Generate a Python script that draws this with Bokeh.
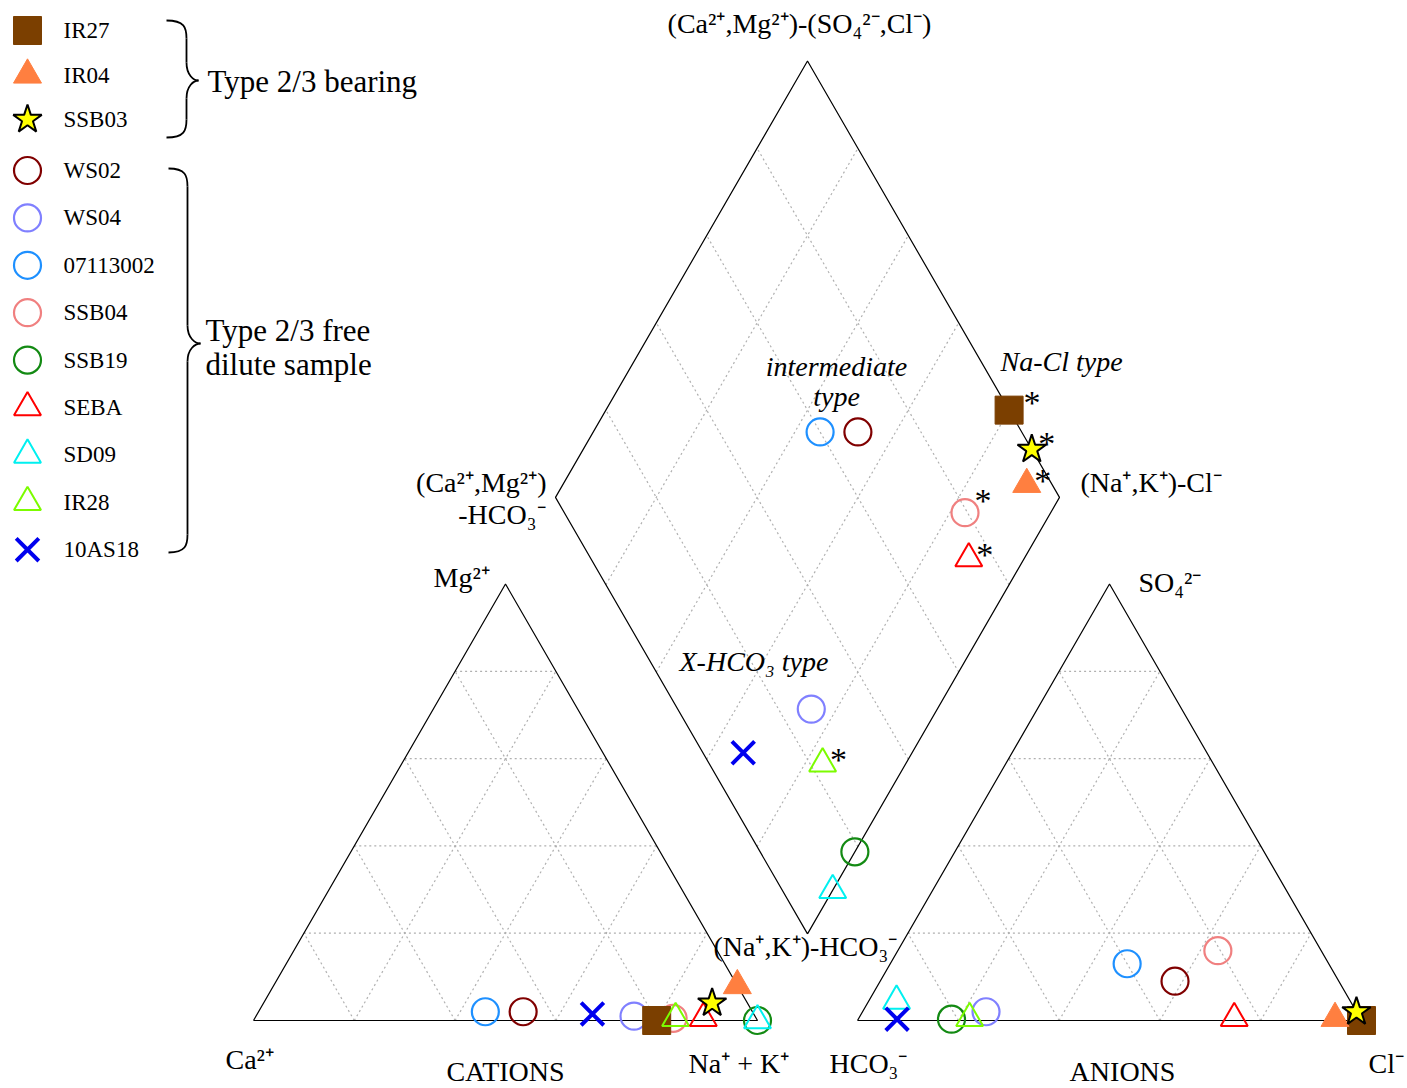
import numpy as np
from bokeh.plotting import figure
from bokeh.models import Range1d, Label
from bokeh.core.properties import value
from bokeh.embed import file_html
from bokeh.resources import INLINE

# ---------------- data (meq %) ----------------
samples = ["IR27", "IR04", "SSB03", "WS02", "WS04", "07113002", "SSB04",
           "SSB19", "SEBA", "SD09", "IR28", "10AS18"]
ca   = [20.0, 0.0, 7.0, 45.5, 24.0, 53.0, 16.5, 0.0, 10.5, 0.0, 16.0, 32.0]
mg   = [0.0, 8.0, 4.0, 2.0, 1.0, 2.0, 0.5, 0.0, 0.5, 0.0, 0.5, 1.5]
nak  = [80.0, 92.0, 89.0, 52.5, 75.0, 45.0, 83.0, 100.0, 89.0, 100.0, 83.5, 66.5]
hco3 = [0.0, 5.0, 0.0, 32.5, 73.5, 40.0, 20.5, 81.2, 25.0, 90.0, 77.5, 92.0]
so4  = [0.0, 0.5, 2.0, 9.0, 2.0, 13.0, 16.0, 0.3, 0.5, 4.5, 0.5, 0.3]
cl   = [100.0, 94.5, 98.0, 58.5, 24.5, 47.0, 63.5, 18.5, 74.5, 5.5, 22.0, 7.7]
starred = ["IR27", "IR04", "SSB03", "SSB04", "SEBA", "IR28"]
group_bearing = ["IR27", "IR04", "SSB03"]
group_free = ["WS02", "WS04", "07113002", "SSB04", "SSB19", "SEBA", "SD09", "IR28", "10AS18"]
grid_fracs = [0.2, 0.4, 0.6, 0.8]

# ---------------- styles ----------------
STYLE = {
    "IR27":     dict(marker="square",   size=28, fill_color="#7B3F00", line_color="#7B3F00", line_width=1),
    "IR04":     dict(marker="triangle", size=28, fill_color="#FF7F40", line_color="#FF7F40", line_width=1),
    "SSB03":    dict(marker="star",     size=30, fill_color="#FFFF00", line_color="black", line_width=2),
    "WS02":     dict(marker="circle",   size=27, fill_color=None, line_color="#800000", line_width=2.2),
    "WS04":     dict(marker="circle",   size=27, fill_color=None, line_color="#8080FF", line_width=2.2),
    "07113002": dict(marker="circle",   size=27, fill_color=None, line_color="#1E90FF", line_width=2.2),
    "SSB04":    dict(marker="circle",   size=27, fill_color=None, line_color="#F08080", line_width=2.2),
    "SSB19":    dict(marker="circle",   size=27, fill_color=None, line_color="#138A13", line_width=2.2),
    "SEBA":     dict(marker="triangle", size=27, fill_color=None, line_color="#FF0000", line_width=2),
    "SD09":     dict(marker="triangle", size=27, fill_color=None, line_color="#00F0F0", line_width=2),
    "IR28":     dict(marker="triangle", size=27, fill_color=None, line_color="#7CFC00", line_width=2),
    "10AS18":   dict(marker="x",        size=32, fill_color=None, line_color="#0000EE", line_width=4),
}
# offset of the "*" centre from its marker, per marker kind (pixels: right, up)
STAR_OFF = {"square": (23, 14), "star": (15, 12), "triangle": (16, 10), "circle": (18, 18)}
DRAW_ORDER = ["WS02", "WS04", "07113002", "SSB04", "SSB19", "IR27", "IR28",
              "SEBA", "SD09", "IR04", "SSB03", "10AS18"]

SERIF = "Liberation Serif"

# ---------------- geometry (layout, in page pixels) ----------------
L = 504.0
H = L * np.sqrt(3) / 2
CAT0 = (253.0, 1020.0)
AN0 = (857.0, 1020.0)
GAP = AN0[0] - (CAT0[0] + L)
DB = (CAT0[0] + L + GAP / 2, CAT0[1] - GAP * np.sqrt(3) / 2)


def cat_xy(c, m, n):
    t = c + m + n
    return CAT0[0] + L * (n + m / 2) / t, CAT0[1] - H * m / t


def an_xy(h, s, c):
    t = h + s + c
    return AN0[0] + L * (c + s / 2) / t, AN0[1] - H * s / t


def dia_xy(c, m, n, h, s, cl_):
    a = (c + m) / (c + m + n)
    b = (s + cl_) / (h + s + cl_)
    return DB[0] + L / 2 * (b - a), DB[1] - H * (a + b)


W, HT = 1405, 1086
p = figure(width=W, height=HT, x_range=Range1d(0, W), y_range=Range1d(HT, 0),
           output_backend="svg", toolbar_location=None, min_border=0,
           x_axis_type=None, y_axis_type=None)
p.grid.visible = False
p.outline_line_color = None
p.background_fill_color = "white"


def tri_vertices(o):
    A = np.array([o[0], o[1]])
    B = np.array([o[0] + L, o[1]])
    C = np.array([o[0] + L / 2, o[1] - H])
    return A, B, C


grid_xs, grid_ys = [], []
for o in (CAT0, AN0):
    A, B, C = tri_vertices(o)
    for f in grid_fracs:
        for P, Q in ((A + f * (C - A), B + f * (C - B)),
                     (A + f * (B - A), C + f * (B - C)),
                     (B + f * (A - B), C + f * (A - C))):
            grid_xs.append([P[0], Q[0]]); grid_ys.append([P[1], Q[1]])

Bd = np.array(DB)
Ld = Bd + L * np.array([-0.5, -np.sqrt(3) / 2])
Rd = Bd + L * np.array([0.5, -np.sqrt(3) / 2])
Td = Bd + L * np.array([0.0, -np.sqrt(3)])
for f in grid_fracs:
    P, Q = Bd + f * (Rd - Bd), Ld + f * (Td - Ld)
    grid_xs.append([P[0], Q[0]]); grid_ys.append([P[1], Q[1]])
    P, Q = Bd + f * (Ld - Bd), Rd + f * (Td - Rd)
    grid_xs.append([P[0], Q[0]]); grid_ys.append([P[1], Q[1]])

p.multi_line(grid_xs, grid_ys, line_color="#B0B0B0", line_width=1.2, line_dash="2 3")

outline_xs, outline_ys = [], []
for o in (CAT0, AN0):
    A, B, C = tri_vertices(o)
    outline_xs.append([A[0], B[0], C[0], A[0]]); outline_ys.append([A[1], B[1], C[1], A[1]])
outline_xs.append([Bd[0], Rd[0], Td[0], Ld[0], Bd[0]])
outline_ys.append([Bd[1], Rd[1], Td[1], Ld[1], Bd[1]])
p.multi_line(outline_xs, outline_ys, line_color="black", line_width=1.2)

# samples
idx = {s: i for i, s in enumerate(samples)}
ast_x, ast_y = [], []
for s in DRAW_ORDER:
    i = idx[s]
    cx, cy = cat_xy(ca[i], mg[i], nak[i])
    ax, ay = an_xy(hco3[i], so4[i], cl[i])
    dx, dy = dia_xy(ca[i], mg[i], nak[i], hco3[i], so4[i], cl[i])
    st = STYLE[s]
    p.scatter([cx, ax, dx], [cy, ay, dy], **st)
    if s in starred:
        ox, oy = STAR_OFF[st["marker"]]
        ast_x.append(dx + ox)
        ast_y.append(dy - oy + 6)

p.text(ast_x, ast_y, text=["*"] * len(ast_x), text_font=value(SERIF),
       text_font_size="34px", text_color="black", text_align="center",
       text_baseline="middle")

# legend (two groups)
LEG_X, LEG_TX = 27, 63
legend_rows = []
for k, s in enumerate(group_bearing):
    legend_rows.append((s, 30 + 44.5 * k))
for k, s in enumerate(group_free):
    legend_rows.append((s, 170 + 47.4 * k))
for s, yy in legend_rows:
    p.scatter([LEG_X], [yy], **STYLE[s])
    p.add_layout(Label(x=LEG_TX, y=yy, text=s, text_font=SERIF, text_font_size="23px",
                       text_baseline="middle", text_align="left", text_color="black"))


# braces
def brace(x_end, x_spine, x_tip, y_top, y_bot, y_tip):
    segs = []
    r = 18
    segs.append(((x_end, y_top), (x_end + (x_spine - x_end) * 0.9, y_top), (x_spine, y_top + r * 0.4), (x_spine, y_top + r)))
    segs.append(((x_spine, y_top + r), (x_spine, y_top + r + 1), (x_spine, y_tip - r - 1), (x_spine, y_tip - r)))
    segs.append(((x_spine, y_tip - r), (x_spine, y_tip - r * 0.3), (x_tip - (x_tip - x_spine) * 0.4, y_tip), (x_tip, y_tip)))
    segs.append(((x_tip, y_tip), (x_tip - (x_tip - x_spine) * 0.4, y_tip), (x_spine, y_tip + r * 0.3), (x_spine, y_tip + r)))
    segs.append(((x_spine, y_tip + r), (x_spine, y_tip + r + 1), (x_spine, y_bot - r - 1), (x_spine, y_bot - r)))
    segs.append(((x_spine, y_bot - r), (x_spine, y_bot - r * 0.4), (x_end + (x_spine - x_end) * 0.9, y_bot), (x_end, y_bot)))
    return segs


for seg in brace(166, 186, 198, 20, 137, 80) + brace(168, 187, 200, 168, 552, 343):
    (x0, y0), (cx0, cy0), (cx1, cy1), (x1, y1) = seg
    p.bezier(x0=[x0], y0=[y0], x1=[x1], y1=[y1], cx0=[cx0], cy0=[cy0], cx1=[cx1], cy1=[cy1],
             line_color="black", line_width=1.8)


def lab(x, y, t, size="28px", align="left", style="normal"):
    p.add_layout(Label(x=x, y=y, text=t, text_font=SERIF, text_font_size=size,
                       text_align=align, text_baseline="middle", text_font_style=style,
                       text_color="black"))


lab(207, 81, "Type 2/3 bearing", size="31px")
lab(205, 330, "Type 2/3 free", size="31px")
lab(205, 364, "dilute sample", size="31px")

lab(Td[0] - 8, 23, "(Ca²⁺,Mg²⁺)-(SO₄²⁻,Cl⁻)", align="center")
lab(Ld[0] - 9, 482, "(Ca²⁺,Mg²⁺)", align="right")
lab(Ld[0] - 10, 514, "-HCO₃⁻", align="right")
lab(Rd[0] + 21, 482, "(Na⁺,K⁺)-Cl⁻")
lab(Bd[0] - 94, 946, "(Na⁺,K⁺)-HCO₃⁻")
lab(433, 577, "Mg²⁺")
lab(1138, 582, "SO₄²⁻")
lab(225, 1059, "Ca²⁺")
lab(CAT0[0] + L / 2, 1071, "CATIONS", align="center")
lab(688, 1063, "Na⁺ + K⁺")
lab(829, 1063, "HCO₃⁻")
lab(AN0[0] + L / 2 + 13, 1071, "ANIONS", align="center")
lab(1368, 1063, "Cl⁻")
lab(836, 366, "intermediate", align="center", style="italic")
lab(836, 396, "type", align="center", style="italic")
lab(1000, 361, "Na-Cl type", style="italic")
lab(679, 661, "X-HCO₃ type", style="italic")

open("out.html", "w").write(file_html(p, INLINE))
